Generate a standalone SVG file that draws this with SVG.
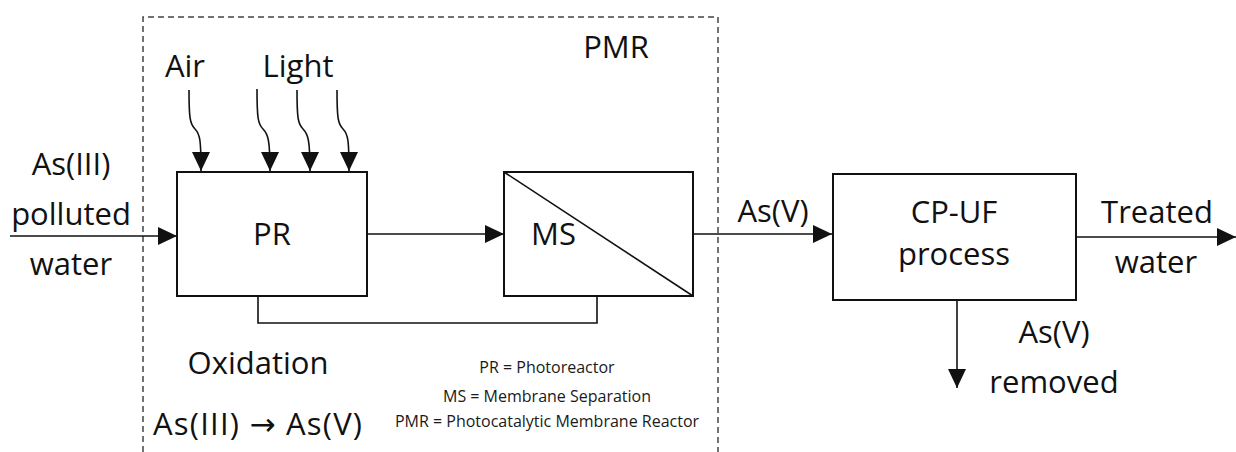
<svg xmlns="http://www.w3.org/2000/svg" width="1236" height="452" viewBox="0 0 1236 452">
<style>
  .t { font-family: "Open Sans", "Noto Sans", "DejaVu Sans", sans-serif; font-size: 31px; fill: #111; }
  .c { text-anchor: middle; }
  .leg { font-family: "Open Sans", "Noto Sans", sans-serif; font-size: 16px; fill: #1a1a1a; text-anchor: middle; }
  .box { fill: #fff; stroke: #111; stroke-width: 2; }
  .ln { fill: none; stroke: #111; stroke-width: 1.6; }
  .dash { fill: none; stroke: #444; stroke-width: 1.5; stroke-dasharray: 6 4; }
</style>
<defs>
  <marker id="ah" markerUnits="userSpaceOnUse" markerWidth="20" markerHeight="18" refX="19" refY="9" orient="auto">
    <path d="M0,0 L19,9 L0,18 z" fill="#111"/>
  </marker>
</defs>
<rect width="1236" height="452" fill="#fff"/>

<g id="pmr-boundary">
  <path class="dash" d="M143,452 L143,17 L718,17 L718,452"/>
  <text class="t c" x="616" y="58">PMR</text>
</g>

<g id="connectors">
  <line class="ln" x1="10" y1="236" x2="177" y2="236" marker-end="url(#ah)"/>
  <line class="ln" x1="367" y1="234" x2="504" y2="234" marker-end="url(#ah)"/>
  <line class="ln" x1="693" y1="234" x2="832" y2="234" marker-end="url(#ah)"/>
  <line class="ln" x1="1077" y1="237" x2="1236" y2="237" marker-end="url(#ah)"/>
  <line class="ln" x1="957" y1="300" x2="957" y2="388" marker-end="url(#ah)"/>
  <polyline class="ln" points="597,296 597,323 258,323 258,297"/>
  <path class="ln" d="M189,90 C189,118 190,124 195,129 C200,134 201,140 201,171" marker-end="url(#ah)"/>
  <path class="ln" d="M257,89 C257,118 258,124 263,129 C268,134 270,140 270,171" marker-end="url(#ah)"/>
  <path class="ln" d="M297,90 C297,118 298,124 303,129 C308,134 310,140 310,171" marker-end="url(#ah)"/>
  <path class="ln" d="M337,90 C337,118 338,124 343,129 C348,134 349,140 349,171" marker-end="url(#ah)"/>
</g>

<g id="input-label">
  <text class="t c" x="71" y="175">As(III)</text>
  <text class="t c" x="71" y="225">polluted</text>
  <text class="t c" x="71" y="275">water</text>
</g>

<g id="air-light">
  <text class="t c" x="185" y="77">Air</text>
  <text class="t c" x="298" y="77">Light</text>
</g>

<g id="PR">
  <rect class="box" x="177" y="172" width="190" height="124"/>
  <text class="t c" x="272" y="245">PR</text>
</g>

<g id="MS">
  <rect class="box" x="504" y="172" width="189" height="124"/>
  <line class="ln" x1="504" y1="172" x2="693" y2="296"/>
  <text class="t" x="531" y="245">MS</text>
</g>

<g id="CPUF">
  <rect class="box" x="833" y="174" width="243" height="126"/>
  <text class="t c" x="954" y="223">CP-UF</text>
  <text class="t c" x="954" y="265">process</text>
</g>

<g id="labels">
  <text class="t c" x="773" y="222">As(V)</text>
  <text class="t c" x="1157" y="223">Treated</text>
  <text class="t c" x="1156" y="273">water</text>
  <text class="t c" x="1054" y="343">As(V)</text>
  <text class="t c" x="1054" y="393">removed</text>
  <text class="t c" x="258" y="374">Oxidation</text>
  <text class="t" x="153" y="435" textLength="209" lengthAdjust="spacing">As(III) → As(V)</text>
</g>

<g id="legend">
  <text class="leg" x="547" y="373">PR = Photoreactor</text>
  <text class="leg" x="547" y="402">MS = Membrane Separation</text>
  <text class="leg" x="547" y="427">PMR = Photocatalytic Membrane Reactor</text>
</g>
</svg>
